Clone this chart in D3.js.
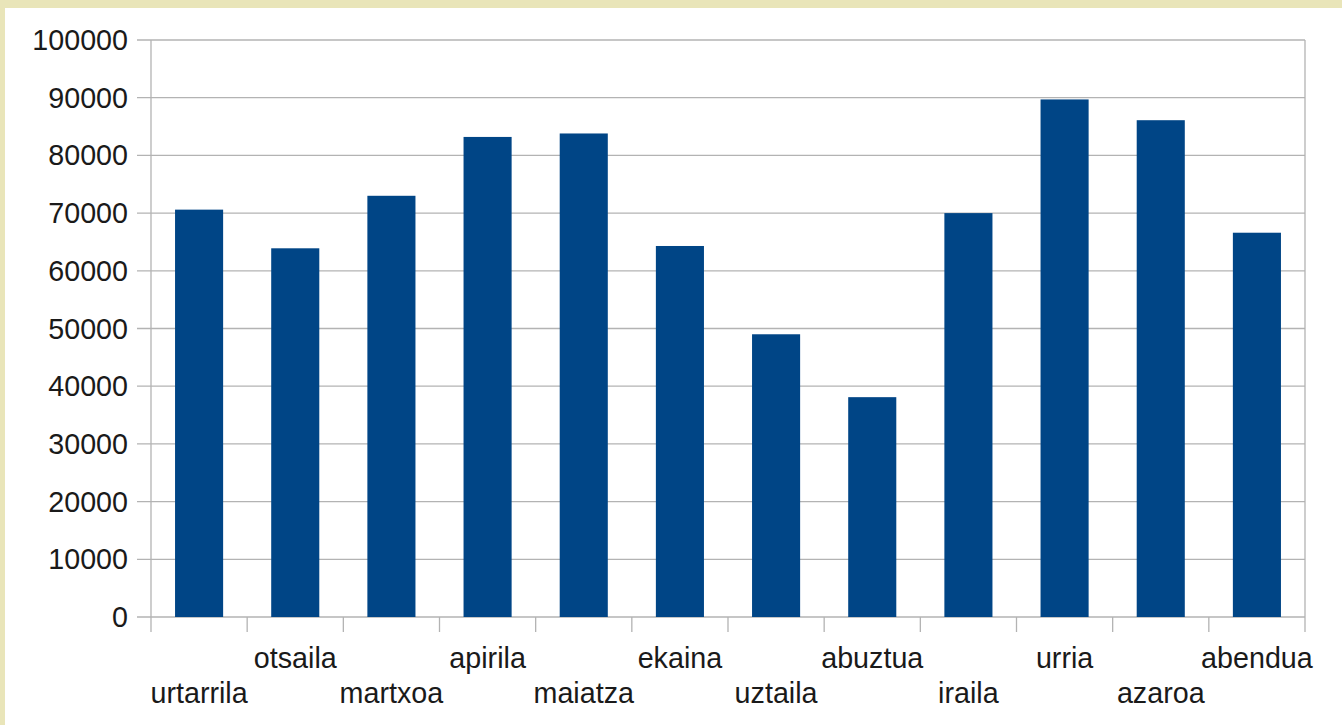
<!DOCTYPE html>
<html>
<head>
<meta charset="utf-8">
<script src="https://cdn.jsdelivr.net/npm/d3@7"></script>
<style>
  html, body { margin: 0; padding: 0; background: #e9e5b9; }
  svg { display: block; }
  text { font-family: "Liberation Sans", Arial, sans-serif; fill: #1a1a1a; }
</style>
</head>
<body>
<svg id="chart" width="1342" height="725"></svg>
<script>
const categories = ["urtarrila","otsaila","martxoa","apirila","maiatza","ekaina","uztaila","abuztua","iraila","urria","azaroa","abendua"];
const values = [70600, 63900, 73000, 83200, 83800, 64300, 49000, 38100, 70000, 89700, 86100, 66600];
const yTicks = [0,10000,20000,30000,40000,50000,60000,70000,80000,90000,100000];

(function () {
const svg = d3.select("#chart");
const W = 1342, H = 725;
svg.append("rect").attr("x", 5).attr("y", 8).attr("width", W - 5).attr("height", H - 8).attr("fill", "#ffffff");

const pLeft = 151, pRight = 1305, pTop = 40, pBottom = 617;
const x = d3.scaleBand().domain(categories).range([pLeft, pRight]).paddingInner(0).paddingOuter(0);
const y = d3.scaleLinear().domain([0, 100000]).range([pBottom, pTop]);
const gridColor = "#b3b3b3";

svg.append("g").selectAll("line").data(yTicks).join("line")
  .attr("x1", pLeft - 14).attr("x2", pRight)
  .attr("y1", d => y(d)).attr("y2", d => y(d))
  .attr("stroke", gridColor).attr("stroke-width", 1.3);

svg.append("line").attr("x1", pRight).attr("x2", pRight).attr("y1", pTop).attr("y2", pBottom + 15)
  .attr("stroke", gridColor).attr("stroke-width", 1.3);
svg.append("line").attr("x1", pLeft).attr("x2", pLeft).attr("y1", pTop).attr("y2", pBottom + 15)
  .attr("stroke", gridColor).attr("stroke-width", 1.3);

svg.append("g").selectAll("line").data(categories.slice(1)).join("line")
  .attr("x1", d => x(d)).attr("x2", d => x(d))
  .attr("y1", pBottom).attr("y2", pBottom + 15)
  .attr("stroke", gridColor).attr("stroke-width", 1.3);

const bw = x.bandwidth() * 0.5;
svg.append("g").selectAll("rect").data(values).join("rect")
  .attr("x", (d, i) => x(categories[i]) + (x.bandwidth() - bw) / 2)
  .attr("width", bw)
  .attr("y", d => y(d))
  .attr("height", d => y(0) - y(d))
  .attr("fill", "#004586");

svg.append("g").selectAll("text").data(yTicks).join("text")
  .attr("x", 128).attr("y", d => y(d))
  .attr("dy", "0.35em")
  .attr("text-anchor", "end")
  .attr("font-size", 28.7)
  .text(d => d);

svg.append("g").selectAll("text").data(categories).join("text")
  .attr("x", d => x(d) + x.bandwidth() / 2)
  .attr("y", (d, i) => i % 2 === 0 ? 703 : 668)
  .attr("text-anchor", "middle")
  .attr("font-size", 28.7)
  .text(d => d);
})();
</script>
</body>
</html>
